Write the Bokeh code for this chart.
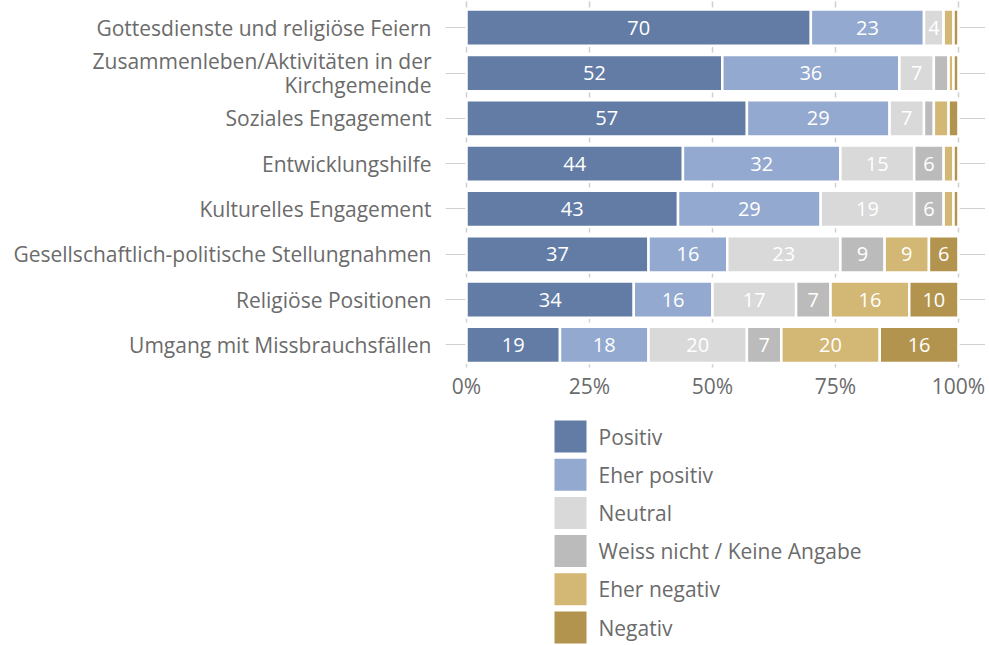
from bokeh.plotting import figure
from bokeh.layouts import column
from bokeh.models import ColumnDataSource, FixedTicker, Range1d
from bokeh.core.properties import value
from bokeh.embed import file_html
from bokeh.resources import INLINE

categories = [
    "Gottesdienste und religiöse Feiern",
    "Zusammenleben/Aktivitäten in der\nKirchgemeinde",
    "Soziales Engagement",
    "Entwicklungshilfe",
    "Kulturelles Engagement",
    "Gesellschaftlich-politische Stellungnahmen",
    "Religiöse Positionen",
    "Umgang mit Missbrauchsfällen",
]
series_names = ["Positiv", "Eher positiv", "Neutral", "Weiss nicht / Keine Angabe", "Eher negativ", "Negativ"]
positiv = [70, 52, 57, 44, 43, 37, 34, 19]
eher_positiv = [23, 36, 29, 32, 29, 16, 16, 18]
neutral = [4, 7, 7, 15, 19, 23, 17, 20]
weiss_nicht = [0, 3, 2, 6, 6, 9, 7, 7]
eher_negativ = [2, 1, 3, 2, 2, 9, 16, 20]
negativ = [1, 1, 2, 1, 1, 6, 10, 16]
x_ticks = [0, 25, 50, 75, 100]
x_tick_labels = ["0%", "25%", "50%", "75%", "100%"]

colors = ["#627ca5", "#93a9cf", "#d9d9d9", "#bbbbbb", "#d3b774", "#b3944e"]
series = [positiv, eher_positiv, neutral, weiss_nicht, eher_negativ, negativ]
keys = ["s%d" % i for i in range(len(series))]

FONT = "Open Sans"
GREY = "#6b6b6b"
FS = "21px"
FS_VAL = "20px"

ypos = list(range(len(categories)))
data = {"y": ypos}
for k, s in zip(keys, series):
    data[k] = s
src = ColumnDataSource(data)

p = figure(
    width=985, height=408, output_backend="svg", toolbar_location=None,
    x_range=Range1d(-4.27, 105.5), y_range=Range1d(7.52, -0.6),
    min_border_left=445, min_border_right=0, min_border_top=0, min_border_bottom=40,
)
p.outline_line_color = None
p.background_fill_color = "white"

p.hbar_stack(keys, y="y", height=0.8, source=src, color=colors,
             line_color="white", line_width=2.5)

# value labels
lx, ly, lt = [], [], []
for i in range(len(categories)):
    left = 0
    for s in series:
        v = s[i]
        if v >= 4:
            lx.append(left + v / 2)
            ly.append(i)
            lt.append(str(v))
        left += v
p.text(x=lx, y=ly, text=lt, text_align="center", text_baseline="middle",
       text_color="white", text_font=value(FONT), text_font_size=FS_VAL)

# axes
p.xaxis.ticker = FixedTicker(ticks=x_ticks)
p.xaxis.major_label_overrides = {t: l for t, l in zip(x_ticks, x_tick_labels)}
p.yaxis.ticker = FixedTicker(ticks=ypos)
p.yaxis.major_label_overrides = {i: c for i, c in zip(ypos, categories)}
for ax in (p.xaxis, p.yaxis):
    ax.axis_line_color = None
    ax.major_tick_line_color = None
    ax.minor_tick_line_color = None
    ax.major_label_text_font = FONT
    ax.major_label_text_font_size = FS
    ax.major_label_text_color = GREY
    ax.major_label_text_line_height = 0.85
p.xaxis.major_label_standoff = -3
p.yaxis.major_label_standoff = 8

# grids
p.ygrid.grid_line_color = "#cfcfcf"
p.ygrid.grid_line_width = 1
p.xgrid.grid_line_color = "#cfcfcf"
p.xgrid.grid_line_width = 1.5
p.xgrid.grid_line_dash = "6 39"
p.xgrid.grid_line_dash_offset = 44

# legend strip below the chart (its frame is aligned with the chart's frame)
p2 = figure(
    width=985, height=237, output_backend="svg", toolbar_location=None,
    x_axis_type=None, y_axis_type=None,
    x_range=Range1d(0, 540), y_range=Range1d(0, 237),
    min_border_left=0, min_border_right=0, min_border_top=0, min_border_bottom=0,
)
p2.outline_line_color = None
p2.grid.visible = False
SW_X, TOP_Y, PITCH = 125, 209, 38.2
leg_y = [TOP_Y - PITCH * i for i in range(len(series_names))]
p2.rect(x=[SW_X] * len(leg_y), y=leg_y, width=32, height=32,
        width_units="screen", height_units="screen",
        fill_color=colors, line_color=None)
p2.text(x=[SW_X + 16 + 12] * len(leg_y), y=leg_y, text=series_names,
        text_align="left", text_baseline="middle", text_color=GREY,
        text_font=value(FONT), text_font_size=FS)

open("out.html", "w").write(file_html(column(p, p2, spacing=0), INLINE))
